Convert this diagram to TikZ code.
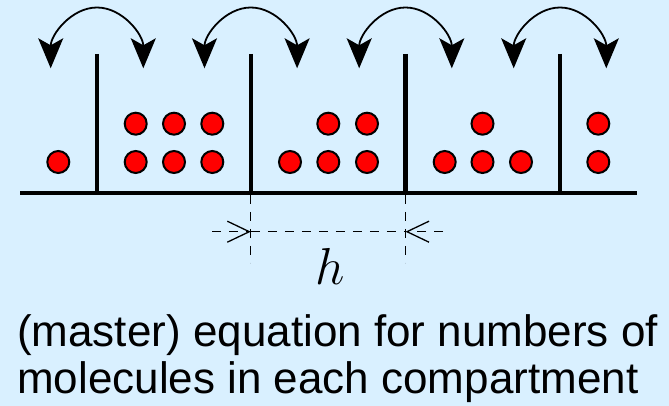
\RequirePackage{fix-cm}
\documentclass[tikz,border=0pt]{standalone}
\usepackage{fontspec}
\setmainfont{Liberation Sans}
\usetikzlibrary{arrows.meta}
\definecolor{bgblue}{RGB}{217,240,255}
\definecolor{molred}{RGB}{255,0,0}
\begin{document}
\begin{tikzpicture}[x=1pt,y=1pt,
  molecule/.style={circle,fill=molred,draw=black,line width=2pt,minimum size=22pt,inner sep=0pt},
  wallline/.style={line width=4.6pt},
  hop/.style={line width=1.8pt,{Stealth[length=30pt,width=25pt,inset=7pt]}-{Stealth[length=30pt,width=25pt,inset=7pt]}},
  guide/.style={line width=1.1pt,dash pattern=on 9pt off 8pt},
  gaparrow/.style={guide,-{Straight Barb[length=22pt,width=21pt,line width=1.3pt]}},
  caption/.style={font=\fontsize{44}{47}\selectfont,anchor=base west,inner sep=0pt}]
\fill[bgblue] (0,0) rectangle (669,406);
\useasboundingbox (0,0) rectangle (669,406);
% floor and walls
\coordinate (f0) at (20,213);
\coordinate (f1) at (637,213);
\draw[wallline] (f0) -- (f1);
\foreach \i/\x in {1/97,2/250.8,3/405.5,4/560}{
  \coordinate (wt\i) at (\x,352);
  \coordinate (wb\i) at (\x,213);
  \draw[wallline] (wt\i) -- (wb\i);
  \coordinate (hl\i) at (\x-46.3,337.7);
  \draw[hop] (hl\i) arc[start angle=180,end angle=0,x radius=46.3,y radius=60.8];
}
% molecules
\node[molecule] (m1) at (58.3,244) {};
\node[molecule] (m2) at (135.7,282.3) {};
\node[molecule] (m3) at (174,282.3) {};
\node[molecule] (m4) at (212.3,282.3) {};
\node[molecule] (m5) at (135.7,244) {};
\node[molecule] (m6) at (174,244) {};
\node[molecule] (m7) at (212.3,244) {};
\node[molecule] (m8) at (328.3,282.3) {};
\node[molecule] (m9) at (367,282.3) {};
\node[molecule] (m10) at (290,244) {};
\node[molecule] (m11) at (328.3,244) {};
\node[molecule] (m12) at (367,244) {};
\node[molecule] (m13) at (482.5,282.3) {};
\node[molecule] (m14) at (444.7,244) {};
\node[molecule] (m15) at (482.5,244) {};
\node[molecule] (m16) at (521,244) {};
\node[molecule] (m17) at (598.3,282.3) {};
\node[molecule] (m18) at (598.3,244) {};
% spacing h
\coordinate (d1t) at (250.8,211);
\coordinate (d1b) at (250.8,143);
\coordinate (d2t) at (405.5,211);
\coordinate (d2b) at (405.5,143);
\draw[guide] (d1t) -- (d1b);
\draw[guide] (d2t) -- (d2b);
\coordinate (g0) at (212,174.3);
\coordinate (g1) at (250.8,174.3);
\coordinate (g2) at (405.5,174.3);
\coordinate (g3) at (443,174.3);
\draw[gaparrow] (g0) -- (g1);
\draw[guide] (g1) -- (g2);
\draw[gaparrow] (g3) -- (g2);
\node[anchor=base,inner sep=0pt,font=\fontsize{52}{60}\selectfont] (hlab) at (330,121) {$h$};
% caption
\node[caption] (cap1) at (17,59) {(master) equation for numbers of};
\node[caption] (cap2) at (17,12) {molecules in each compartment};
\end{tikzpicture}
\end{document}
